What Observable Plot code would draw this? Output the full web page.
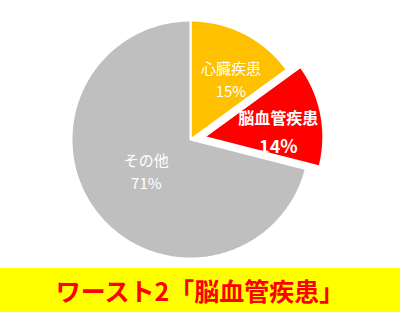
<!DOCTYPE html>
<html>
<head>
<meta charset="utf-8">
<script src="https://cdn.jsdelivr.net/npm/d3@7"></script>
<script src="https://cdn.jsdelivr.net/npm/@observablehq/plot@0.6"></script>
<style>
  html, body { margin: 0; padding: 0; background: #fff; }
  #chart svg { display: block; }
  .banner {
    width: 400px; height: 44px; background: #FFFF00;
    display: flex; align-items: center; justify-content: center;
    color: #FF0000; font-weight: bold; font-size: 25px;
    font-family: "Noto Sans CJK JP", sans-serif;
  }
</style>
</head>
<body>
<div id="chart"></div>
<div class="banner" id="banner"></div>
<script>
// Causes of death share (percent), clockwise from 12 o'clock
const categories = ["心臓疾患", "脳血管疾患", "その他"];
const shares = [15, 14, 71];
const colors = ["#FFC000", "#FF0000", "#BFBFBF"];
const bannerText = "ワースト2「脳血管疾患」";

// Layout (in pie-radius units)
const W = 400, H = 268;
const cx = 190, cy = 139, R = 119;
const explode = [0, 0.118, 0];
const labelRadius = [0.6, 0.62, 0.47];
const labelShift = [[0.067, -0.034], [0.013, -0.084], [0, 0.01]];
const bold = [false, true, false];

const total = d3.sum(shares);
let acc = 0;
const slices = categories.map((name, i) => {
  const a0 = acc / total * 2 * Math.PI;
  acc += shares[i];
  const a1 = acc / total * 2 * Math.PI;
  const mid = (a0 + a1) / 2;
  const ox = explode[i] * Math.sin(mid), oy = explode[i] * Math.cos(mid);
  return {name, value: shares[i], color: colors[i], a0, a1, mid, ox, oy, i};
});

// Polygon outline for each wedge: apex, arc, back to apex
const outline = [];
for (const s of slices) {
  outline.push({key: s.name, color: s.color, x: s.ox, y: s.oy});
  const n = Math.max(2, Math.ceil((s.a1 - s.a0) / (Math.PI / 180)));
  for (let k = 0; k <= n; k++) {
    const a = s.a0 + (s.a1 - s.a0) * k / n;
    outline.push({key: s.name, color: s.color, x: s.ox + Math.sin(a), y: s.oy + Math.cos(a)});
  }
}

const labels = slices.map(s => ({
  name: s.name,
  pct: s.value + "%",
  bold: bold[s.i],
  x: s.ox + labelRadius[s.i] * Math.sin(s.mid) + labelShift[s.i][0],
  y: s.oy + labelRadius[s.i] * Math.cos(s.mid) + labelShift[s.i][1]
}));

const font = "Noto Sans CJK JP";
const chart = Plot.plot({
  width: W, height: H,
  margin: 0,
  x: {domain: [-cx / R, (W - cx) / R], axis: null},
  y: {domain: [-(H - cy) / R, cy / R], axis: null},
  style: {fontFamily: font, background: "#fff"},
  marks: [
    Plot.line(outline, {
      x: "x", y: "y", z: "key", curve: "linear-closed",
      fill: "color", stroke: "#fff", strokeWidth: 2, strokeLinejoin: "miter"
    }),
    Plot.text(labels.filter(d => !d.bold), {
      x: "x", y: "y", text: "name", dy: -11, fill: "#fff", fontSize: 15
    }),
    Plot.text(labels.filter(d => !d.bold), {
      x: "x", y: "y", text: "pct", dy: 12, fill: "#fff", fontSize: 15
    }),
    Plot.text(labels.filter(d => d.bold), {
      x: "x", y: "y", text: "name", dy: -14, fill: "#fff", fontSize: 16, fontWeight: "bold"
    }),
    Plot.text(labels.filter(d => d.bold), {
      x: "x", y: "y", text: "pct", dy: 14, fill: "#fff", fontSize: 18, fontWeight: "bold"
    })
  ]
});
document.getElementById("chart").append(chart);
document.getElementById("banner").textContent = bannerText;
</script>
</body>
</html>
